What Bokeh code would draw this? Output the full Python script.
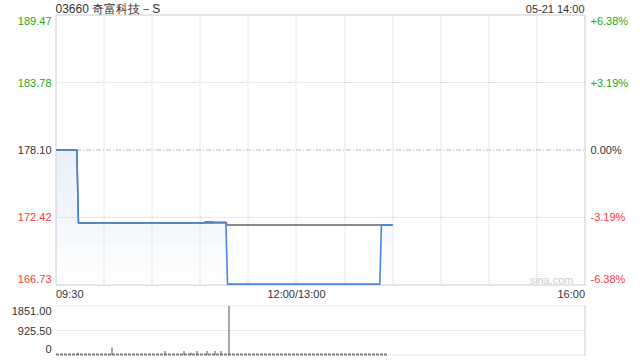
import numpy as np
from bokeh.plotting import figure
from bokeh.layouts import column
from bokeh.models import Range1d
from bokeh.core.properties import value
from bokeh.embed import file_html
from bokeh.resources import INLINE

# ---------------- data ----------------
title_text = "03660 奇富科技－S"
stamp_text = "05-21 14:00"
watermark_text = "sina.com"

# minutes since 09:30 on a trading clock with lunch removed (0..330)
price_minutes = [0, 13, 14, 92, 93, 98, 99, 106, 107, 202, 203, 210]
price_values = [178.10, 178.10, 171.95, 171.95, 172.05, 172.05, 171.95, 171.95,
                166.80, 166.80, 171.80, 171.80]

avg_minutes = [0, 13, 14, 98, 99, 106, 107, 210]
avg_values = [178.10, 178.10, 171.95, 171.95, 172.02, 172.02, 171.78, 171.78]

vol_minutes = [14, 35, 68, 80, 84, 88, 94, 99, 103, 108]
vol_values = [90, 285, 150, 150, 90, 150, 150, 150, 150, 1851]
tiny_trades_span = [0, 207]

prev_close = 178.10
price_ticks = [189.47, 183.78, 178.10, 172.42, 166.73]
price_tick_labels = ["189.47", "183.78", "178.10", "172.42", "166.73"]
pct_tick_labels = ["+6.38%", "+3.19%", "0.00%", "-3.19%", "-6.38%"]
vol_ticks = [1851.00, 925.50, 0]
vol_tick_labels = ["1851.00", "925.50", "0"]
time_ticks = [0, 150, 330]
time_tick_labels = ["09:30", "12:00/13:00", "16:00"]
grid_minutes = [30, 60, 90, 120, 150, 180, 210, 240, 270, 300]

# ---------------- style / geometry ----------------
FONT = "Liberation Sans"
GREEN = "#22a822"
RED = "#f03c3c"
DARK = "#333333"
GRID = "#d2d2d2"
LINE_BLUE = "#4785e0"
AVG_GRAY = "#666666"

W = 640
FL, FR = 55.5, 584.5          # frame left / right (pixel centres)
PT, PB = 14.5, 284.5          # price frame top / bottom
H1 = 300
VT, VB = 5.5, 54.5            # volume frame top / bottom inside 2nd figure
H2 = 60

XMIN, XMAX = 0, 330
sx = (FR - FL) / (XMAX - XMIN)
x_range = Range1d(XMIN - FL / sx, XMAX + (W - FR) / sx)

PMIN, PMAX = 166.73, 189.47
sy = (PB - PT) / (PMAX - PMIN)
p_range = Range1d(PMIN - (H1 - PB) / sy, PMAX + PT / sy)

VMIN, VMAX = 0, 1851
sv = (VB - VT) / (VMAX - VMIN)
v_range = Range1d(VMIN - (H2 - VB) / sv, VMAX + VT / sv)


def px2x(px):
    return XMIN + (px - FL) / sx


def py2p(py):
    return PMAX - (py - PT) / sy


def py2v(py):
    return VMAX - (py - VT) / sv


def snap_x(m):
    pxv = FL + (m - XMIN) * sx
    return px2x(np.floor(pxv) + 0.5)


def base_fig(h, yr):
    f = figure(width=W, height=h, x_range=x_range, y_range=yr,
               output_backend="svg", toolbar_location=None,
               x_axis_location=None, y_axis_location=None,
               min_border=0, min_border_left=0, min_border_right=0,
               min_border_top=0, min_border_bottom=0)
    f.title.visible = False
    f.grid.visible = False
    f.outline_line_color = None
    f.background_fill_color = "white"
    f.border_fill_color = "white"
    return f


TXT = dict(text_font=value(FONT))

# ---------------- price panel ----------------
p = base_fig(H1, p_range)

# gradient fill under price line, built from colour bands
px = np.array(price_minutes, dtype=float)
py = np.array(price_values)
nb = 27
top_rgb = np.array([209, 225, 247])
for k in range(nb):
    lo = PMIN + (PMAX - PMIN) * k / nb
    hi = PMIN + (PMAX - PMIN) * (k + 1) / nb
    f = (k + 0.5) / nb
    c = (255 - (255 - top_rgb) * f).astype(int)
    col = "#%02x%02x%02x" % tuple(c)
    p.varea(x=px, y1=np.full_like(py, lo), y2=np.clip(py, lo, hi),
            fill_color=col, fill_alpha=1.0)

# grid
gx = [snap_x(m) for m in grid_minutes]
p.segment(x0=gx, y0=[PMIN] * len(gx), x1=gx, y1=[PMAX] * len(gx),
          line_color=GRID, line_dash="1 1", line_width=1)
hg = [t for t in price_ticks[1:-1] if t != prev_close]
p.segment(x0=[XMIN] * len(hg), y0=hg, x1=[XMAX] * len(hg), y1=hg,
          line_color=GRID, line_dash="1 1", line_width=1)
p.segment(x0=[XMIN], y0=[prev_close], x1=[XMAX], y1=[prev_close],
          line_color="#b8b8b8", line_dash="5 2 1 2", line_width=1)
# frame outline
p.quad(left=[XMIN], right=[XMAX], bottom=[PMIN], top=[PMAX],
       fill_color=None, line_color="#cccccc", line_width=1)

p.line(avg_minutes, avg_values, line_color=AVG_GRAY, line_width=1.5)
p.line(price_minutes, price_values, line_color=LINE_BLUE, line_width=1.6)

# tick labels
cols = [GREEN if t > prev_close else (RED if t < prev_close else DARK)
        for t in price_ticks]
shift = [6] + [0] * (len(price_ticks) - 2) + [-6]
lab_y = [t - s_ / sy for t, s_ in zip(price_ticks, shift)]
p.text(x=[px2x(51)] * len(lab_y), y=lab_y, text=price_tick_labels,
       text_align="right", text_baseline="middle", text_color=cols,
       text_font_size="11px", **TXT)
p.text(x=[px2x(590)] * len(lab_y), y=lab_y, text=pct_tick_labels,
       text_align="left", text_baseline="middle", text_color=cols,
       text_font_size="11px", **TXT)

p.text(x=time_ticks, y=[py2p(293)] * 3, text=time_tick_labels,
       text_align=["left", "center", "right"], text_baseline="middle",
       text_color=DARK, text_font_size="11px", **TXT)

p.text(x=[px2x(55)], y=[py2p(8)], text=[title_text], text_align="left",
       text_baseline="middle", text_color=DARK, text_font_size="12px", **TXT)
p.text(x=[px2x(584)], y=[py2p(8)], text=[stamp_text], text_align="right",
       text_baseline="middle", text_color=DARK, text_font_size="11px", **TXT)
p.text(x=[px2x(573)], y=[py2p(279)], text=[watermark_text], text_align="right",
       text_baseline="middle", text_color="#cccccc", text_font_size="11px", **TXT)

# ---------------- volume panel ----------------
v = base_fig(H2, v_range)

v.segment(x0=[XMIN] * 3, y0=vol_ticks, x1=[XMAX] * 3, y1=vol_ticks,
          line_color=GRID, line_dash="1 1", line_width=1)
v.segment(x0=[XMAX], y0=[VMIN], x1=[XMAX], y1=[VMAX],
          line_color="#cccccc", line_width=1)

v.segment(x0=[tiny_trades_span[0]], y0=[py2v(VB - 0.5)], x1=[tiny_trades_span[1]],
          y1=[py2v(VB - 0.5)], line_color="#808080", line_width=2, line_dash="3 1")
v.segment(x0=[snap_x(m) for m in vol_minutes], y0=[0] * len(vol_minutes),
          x1=[snap_x(m) for m in vol_minutes], y1=vol_values,
          line_color="#555555", line_width=1)

vshift = [5, 0, -6]
v.text(x=[px2x(51)] * 3, y=[t - s_ / sv for t, s_ in zip(vol_ticks, vshift)],
       text=vol_tick_labels, text_align="right", text_baseline="middle",
       text_color=DARK, text_font_size="11px", **TXT)

layout = column(p, v, spacing=0)
open("out.html", "w").write(file_html(layout, INLINE))
